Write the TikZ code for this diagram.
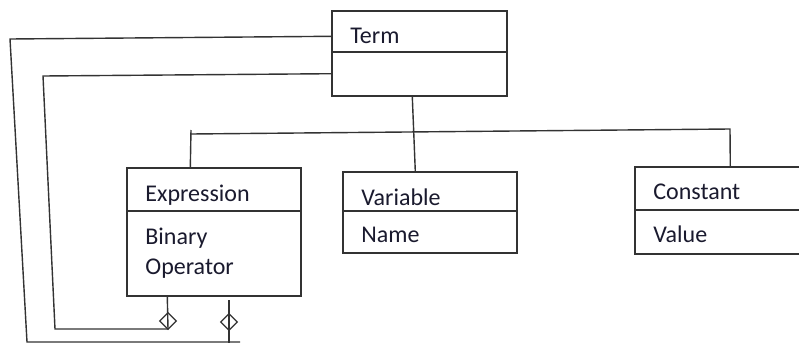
\documentclass[tikz,border=0pt]{standalone}
\usepackage{fontspec}
\setmainfont{Carlito}
\usetikzlibrary{calc,shapes.geometric}
\definecolor{lc}{HTML}{333333}
\definecolor{tc}{HTML}{1A1A2E}
\begin{document}
\begin{tikzpicture}[x=0.5pt,y=-0.5pt,
  box/.style={draw=lc, line width=0.7pt, inner sep=0pt, rectangle},
  lbl/.style={anchor=base west, inner sep=0pt, font=\fontsize{12}{14}\selectfont, text=tc},
  conn/.style={draw=lc, line width=0.7pt},
  dia/.style={draw=lc, diamond, inner sep=0pt, minimum width=8.5pt, minimum height=8.5pt, line width=0.6pt}]
\clip (0,0) rectangle (799,343);
\fill[white] (0,0) rectangle (799,343);

% class boxes
\node[box, minimum width=87.5pt, minimum height=42.5pt] (Term) at (419.5,53.5) {};
\node[box, minimum width=87pt, minimum height=64pt] (Expression) at (214,232) {};
\node[box, minimum width=87pt, minimum height=40.5pt] (Variable) at (430,212.5) {};
\node[box, minimum width=88.5pt, minimum height=43.5pt] (Constant) at (723.5,210.5) {};

% dividers
\draw[conn] (Term.west |- 0,52) -- (Term.east |- 0,52);
\draw[conn] (Expression.west |- 0,211) -- (Expression.east |- 0,211);
\draw[conn] (Variable.west |- 0,211) -- (Variable.east |- 0,211);
\draw[conn] (Constant.west |- 0,210) -- (Constant.east |- 0,210);

% texts
\node[lbl] (tTerm) at (350,43) {Term};
\node[lbl] (tExpr) at (145,201) {Expression};
\node[lbl] (tBin) at (145,244) {Binary};
\node[lbl] (tOp) at (145,274) {Operator};
\node[lbl] (tVar) at (361,205) {Variable};
\node[lbl] (tName) at (361,242) {Name};
\node[lbl] (tConst) at (653,199) {Constant};
\node[lbl] (tVal) at (653,242) {Value};

% bend points
\coordinate (c1) at (10,39);
\coordinate (c2) at (27,342);
\coordinate (c3) at (240,342);
\coordinate (c5) at (229,300);
\coordinate (c6) at (229,344);
\coordinate (c7) at (43,76);
\coordinate (c8) at (55,329);
\coordinate (c9) at (168,329);
\coordinate (bt) at (191,130);
\coordinate (bl) at (191,134);
\coordinate (br) at (730,129);

% aggregation connectors
\draw[conn] ($(Term.north west)+(0,26)$) -- (c1) -- (c2) -- (c3);
\draw[conn] (c5) -- (c6);
\draw[conn] ($(Term.south west)+(0,-23)$) -- (c7) -- (c8) -- (c9) -- ($(Expression.south west)+(41,0)$);
\node[dia] (d1) at (168,321) {};
\node[dia] (d2) at (229,322) {};

% generalization connectors
\draw[conn] ($(Term.south west)+(81,0)$) -- ($(Variable.north west)+(73,0)$);
\draw[conn] (bt) -- ($(Expression.north west)+(64,0)$);
\draw[conn] (bl) -- (br) -- ($(Constant.north west)+(96,0)$);
\end{tikzpicture}
\end{document}
